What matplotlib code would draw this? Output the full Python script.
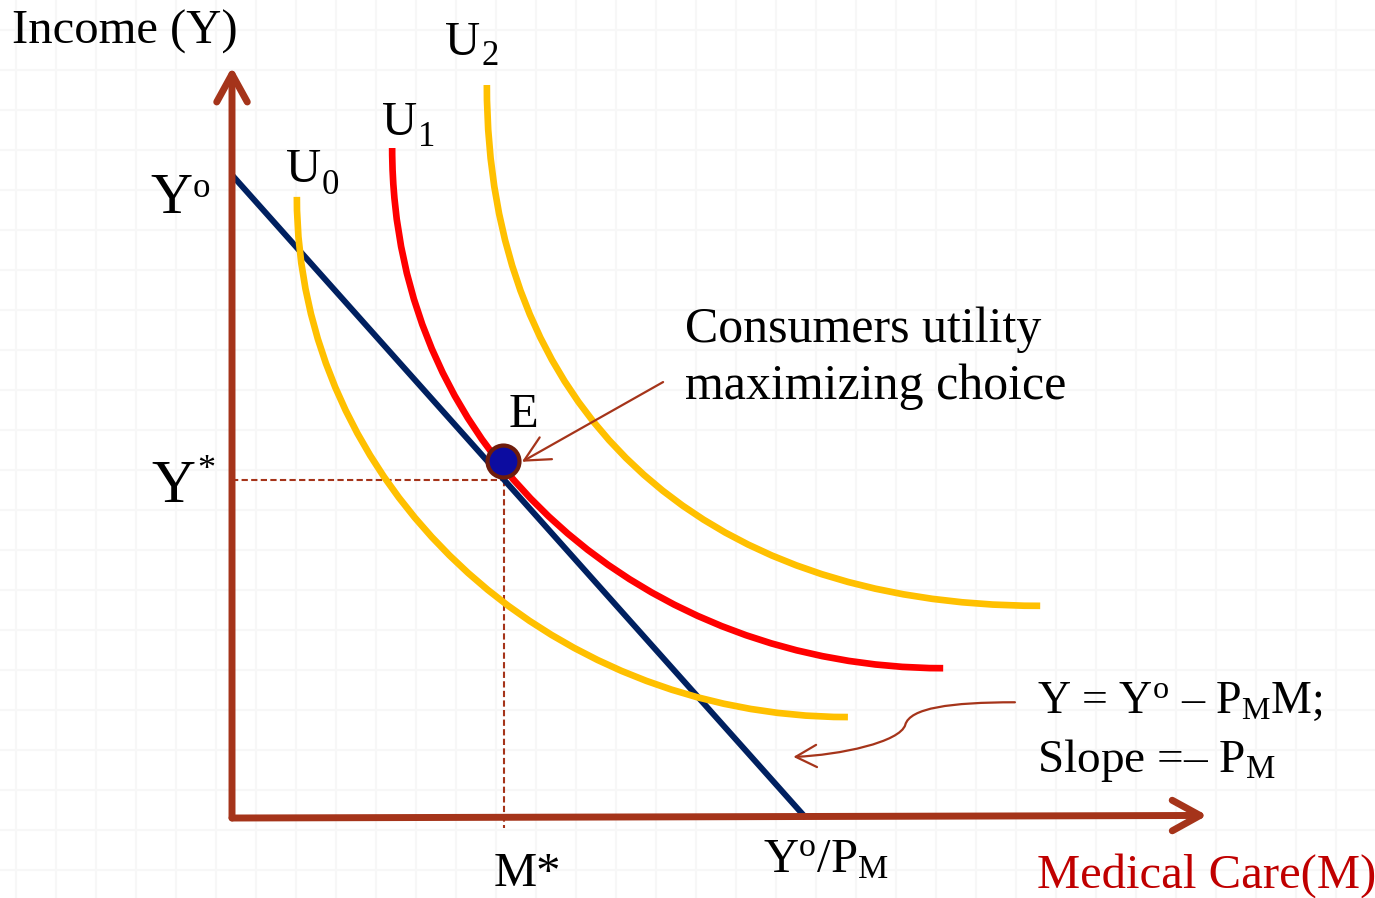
import matplotlib
matplotlib.use("Agg")
import matplotlib.pyplot as plt
from matplotlib.path import Path
from matplotlib.patches import PathPatch, FancyArrowPatch
import numpy as np

plt.rcParams['font.family'] = ['Liberation Serif', 'DejaVu Serif']
plt.rcParams['mathtext.fontset'] = 'custom'
plt.rcParams['mathtext.rm'] = 'Liberation Serif'
plt.rcParams['mathtext.it'] = 'Liberation Serif:italic'

# budget line  Y = Y0 - PM*M  (end points, M and Y units)
budget_M = [0, 10]
budget_Y = [10, 0]

# optimum
M_star = 4.74
Y_star = 5.26
E_dot = (4.72, 5.55)

# indifference curves as cubic bezier control points (M, Y)
U0_M = [1.13, 1.13, 5.45, 10.73]
U0_Y = [9.66, 5.21, 1.57, 1.57]
U1_M = [2.79, 2.79, 7.30, 12.39]
U1_Y = [10.42, 5.57, 2.33, 2.33]
U2_M = [4.44, 4.44, 8.10, 14.08]
U2_Y = [11.40, 6.38, 3.30, 3.30]

# axis extents
M_end = 16.99
Y_end = 11.68

BROWN = '#A5341A'
GOLD = '#FFC000'
RED = '#FF0000'
NAVY = '#002060'

fig = plt.figure(figsize=(13.75, 8.98), dpi=100)

# faint background grid
bg = fig.add_axes([0, 0, 1, 1], zorder=0)
bg.set_xlim(0, 1375)
bg.set_ylim(898, 0)
bg.set_xticks(np.arange(16, 1376, 40))
bg.set_yticks(np.arange(30, 898, 40))
bg.grid(True, color='#f7f7f7', lw=1.5)
bg.tick_params(length=0, labelbottom=False, labelleft=False)
for s in bg.spines.values():
    s.set_visible(False)

ax = fig.add_axes([0, 0, 1, 1], zorder=1)
ax.patch.set_alpha(0)
ax.set_xlim(-4.042, 19.913)
ax.set_ylim(-1.244, 12.722)
ax.axis('off')


def bezier(xs, ys, color, z):
    verts = list(zip(xs, ys))
    codes = [Path.MOVETO, Path.CURVE4, Path.CURVE4, Path.CURVE4]
    p = PathPatch(Path(verts, codes), fill=False, ec=color, lw=4.8,
                  capstyle='butt', zorder=z)
    ax.add_patch(p)


bezier(U1_M, U1_Y, RED, 3)
ax.plot(budget_M, budget_Y, color=NAVY, lw=4.3, zorder=4, solid_capstyle='butt')
bezier(U0_M, U0_Y, GOLD, 5)
bezier(U2_M, U2_Y, GOLD, 5)

# axes with open arrow heads
arrow_kw = dict(arrowstyle='->,head_length=1.0,head_width=0.55', lw=5,
                color=BROWN, mutation_scale=20, shrinkA=0, shrinkB=0,
                capstyle='round', joinstyle='round')
ax.annotate('', xy=(0, Y_end), xytext=(0, 0), arrowprops=arrow_kw, zorder=6)
ax.annotate('', xy=(M_end, 0.04), xytext=(0, 0), arrowprops=arrow_kw, zorder=6)

# dashed guides
ax.plot([0, M_star], [Y_star, Y_star], color=BROWN, lw=1.5,
        ls=(0, (3, 1.6)), zorder=2)
ax.plot([M_star, M_star], [Y_star, -0.15], color=BROWN, lw=1.5,
        ls=(0, (3, 1.6)), zorder=2)

ax.plot(*E_dot, 'o', ms=23, mfc='#0C0CA0', mec='#6E1C0C', mew=3, zorder=8)

# annotation arrows
ax.annotate('', xy=(5.05, 5.54), xytext=(7.51, 6.78),
            arrowprops=dict(arrowstyle='->,head_length=0.9,head_width=0.45',
                            lw=1.6, color=BROWN, mutation_scale=20,
                            shrinkA=0, shrinkB=0), zorder=7)

curl = Path([(13.64, 1.80), (12.51, 1.80), (11.81, 1.71), (11.73, 1.45),
             (11.64, 1.18), (10.59, 0.98), (9.78, 0.95)],
            [Path.MOVETO, Path.CURVE4, Path.CURVE4, Path.CURVE4,
             Path.CURVE4, Path.CURVE4, Path.CURVE4])
ax.add_patch(FancyArrowPatch(path=curl,
                             arrowstyle='->,head_length=0.75,head_width=0.4',
                             lw=1.6, color=BROWN, mutation_scale=20, zorder=7))

# texts
fs = 35
ax.text(-3.83, 12.05, 'Income (Y)', fontsize=fs, va='baseline')
ax.text(14.02, -1.09, 'Medical Care(M)', fontsize=fs, va='baseline', color='#C00000')

ax.text(0.94, 9.89, 'U', fontsize=fs, va='baseline')
ax.text(1.57, 9.70, '0', fontsize=25, va='baseline')
ax.text(2.61, 10.62, 'U', fontsize=fs, va='baseline')
ax.text(3.24, 10.45, '1', fontsize=25, va='baseline')
ax.text(3.71, 11.87, 'U', fontsize=fs, va='baseline')
ax.text(4.34, 11.71, '2', fontsize=25, va='baseline')

ax.text(-1.43, 9.41, 'Y', fontsize=42, va='baseline')
ax.text(-0.68, 9.66, 'o', fontsize=25, va='baseline')
ax.text(-1.40, 4.91, 'Y', fontsize=44, va='baseline')
ax.text(-0.60, 5.66, '*', fontsize=26, va='top')

ax.text(5.07, 6.08, 'E', fontsize=fs, va='baseline', ha='center')
ax.text(4.55, -1.06, 'M*', fontsize=fs, va='baseline')
ax.text(9.25, -0.84, r'Y$^{\mathrm{o}}$/P$_{\mathrm{M}}$', fontsize=fs, va='baseline')

ax.text(7.89, 7.40, 'Consumers utility', fontsize=36, va='baseline')
ax.text(7.89, 6.52, 'maximizing choice', fontsize=36, va='baseline')

ax.text(14.02, 1.63, r'Y = Y$^{\mathrm{o}}$ – P$_{\mathrm{M}}$M;', fontsize=33, va='baseline')
ax.text(14.02, 0.72, r'Slope =– P$_{\mathrm{M}}$', fontsize=34, va='baseline')

fig.savefig('out.png', dpi=100)
